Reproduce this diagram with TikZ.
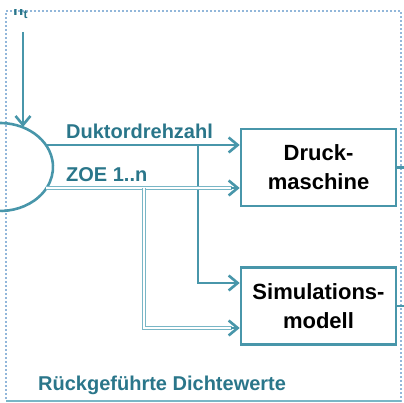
\documentclass[tikz,border=0pt]{standalone}
\usepackage{fontspec}
\setmainfont{Liberation Sans}
\usetikzlibrary{arrows.meta,positioning,calc}
\definecolor{flowcol}{RGB}{72,150,170}
\definecolor{zoecol}{RGB}{120,182,198}
\definecolor{labelcol}{RGB}{42,118,138}
\definecolor{framecol}{RGB}{35,110,180}

\begin{document}
\begin{tikzpicture}[x=1pt,y=-1pt,>={Straight Barb[length=9pt,width=15pt]},
  flow/.style={draw=flowcol,line width=2.6pt},
  zoe/.style={draw=zoecol,line width=0.8pt,double=white,double distance=1.6pt},
  frame/.style={draw=framecol,line width=1.6pt,line cap=round,dash pattern=on 0pt off 4pt},
  block/.style={draw=flowcol,line width=2.6pt,minimum width=155pt,minimum height=77pt,
    inner sep=0pt,align=center,font=\fontsize{22}{29}\selectfont\bfseries},
  sig/.style={text=labelcol,font=\fontsize{20}{24}\selectfont\bfseries,inner sep=0pt,anchor=base west}]
\useasboundingbox (0,0) rectangle (404,403);

\draw[frame] (401,401) -- (401,11) -- (6,11) -- (6,401);
\draw[draw=zoecol,line width=1.8pt] (6,401) -- (401,401);

\begin{scope}
\clip (0,9.5) rectangle (60,30);
\node[text=labelcol,font=\fontsize{17}{20}\selectfont\bfseries,inner sep=0pt,anchor=base west]
  (nt) at (13,16) {n\textsubscript{t}};
\end{scope}

\coordinate (mix) at (0,167);
\draw[flow] ([shift={(-100:53 and 44)}]mix) arc[start angle=-100,end angle=100,x radius=53,y radius=44];
\coordinate (ntin) at (23,32);
\coordinate (ntout) at (23,127);
\draw[flow,->] (ntin) -- (ntout);

\node[block] (dm) at (318.5,167.5) {Druck-\\maschine};
\node[block] (sim) at (318.5,306) {Simulations-\\modell};
\coordinate (dmout) at (410,167.5);
\coordinate (simout) at (410,306);
\draw[flow] (dm.east) -- (dmout);
\draw[flow] (sim.east) -- (simout);

\coordinate (dk) at (46,145);
\coordinate (dkbranch) at (198,145);
\coordinate (zo) at (46,188);
\coordinate (zobranch) at (144,188);
\coordinate (zodm) at ([yshift=-20.5pt]dm.west);
\coordinate (zosim) at ([yshift=-22pt]sim.west);

\draw[flow,->] (dk) -- ([yshift=22.5pt]dm.west);
\draw[flow,->] (dkbranch) |- ([yshift=23pt]sim.west);

\draw[zoe] (zo) -- ([xshift=-8pt]zodm);
\draw[zoe] (zobranch) |- ([xshift=-8pt]zosim);
\draw[flow,->] ([xshift=-9pt]zodm) -- (zodm);
\draw[flow,->] ([xshift=-9pt]zosim) -- (zosim);

\node[sig] (dklabel) at (66,139) {Duktordrehzahl};
\node[sig] (zolabel) at (66,182) {ZOE 1..n};
\node[sig] (feedback) at (38,390) {Rückgeführte Dichtewerte};
\end{tikzpicture}
\end{document}
